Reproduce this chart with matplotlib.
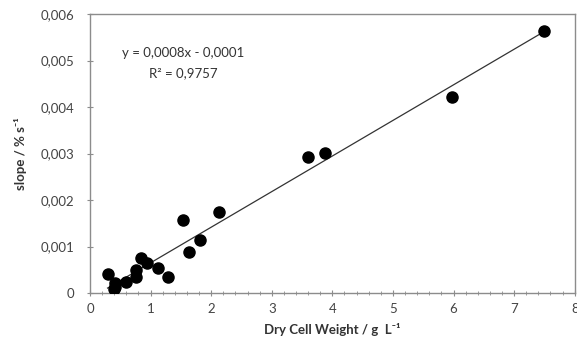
import numpy as np
import matplotlib.pyplot as plt
from matplotlib.ticker import FuncFormatter, MultipleLocator

# Dry cell weight (g/L) vs slope (% per s)
dcw = [0.29, 0.40, 0.41, 0.41, 0.59, 0.76, 0.76, 0.84, 0.94, 1.13, 1.28,
       1.53, 1.63, 1.82, 2.13, 3.60, 3.88, 5.97, 7.50]
slope = [0.00040, 0.00008, 0.00014, 0.00021, 0.00023, 0.00034, 0.00049,
         0.00075, 0.00064, 0.00054, 0.00034, 0.00158, 0.00089, 0.00114,
         0.00174, 0.00292, 0.00302, 0.00421, 0.00563]
eq_text = "y = 0,0008x - 0,0001"
r2_text = "R² = 0,9757"

x = np.array(dcw)
y = np.array(slope)
m, b = np.polyfit(x, y, 1)

plt.rcParams['font.family'] = ['Lato', 'DejaVu Sans']

fig = plt.figure(figsize=(5.77, 3.44), dpi=100)
ax = fig.add_axes([0.156, 0.148, 0.84, 0.811])

xs = np.array([x.min(), x.max()])
ax.plot(xs, m * xs + b, color="#333333", lw=0.9, zorder=2)
ax.plot(x, y, "o", color="black", ms=8, zorder=3)

ax.set_xlim(0, 8)
ax.set_ylim(0, 0.006)
ax.xaxis.set_major_locator(MultipleLocator(1))
ax.xaxis.set_minor_locator(MultipleLocator(0.2))
ax.yaxis.set_major_locator(MultipleLocator(0.001))


def comma(v, pos):
    if abs(v) < 1e-12:
        return "0"
    return f"{v:.3f}".replace(".", ",")


ax.yaxis.set_major_formatter(FuncFormatter(comma))
ax.xaxis.set_major_formatter(FuncFormatter(lambda v, p: f"{v:.0f}"))

for s in ax.spines.values():
    s.set_color("#8c8c8c")
    s.set_linewidth(1.0)
ax.tick_params(axis="both", which="major", colors="#8c8c8c", labelcolor="#444444",
               labelsize=9.5, length=4, direction="inout")
ax.tick_params(axis="x", which="minor", colors="#8c8c8c", length=2.5, direction="inout")
ax.tick_params(axis="x", pad=5)
ax.tick_params(axis="y", pad=9)

ax.set_xlabel("Dry Cell Weight / g  L⁻¹", fontsize=9.5, fontweight="bold",
              color="#333333", labelpad=6)
ax.set_ylabel("slope / % s⁻¹", fontsize=9.5, fontweight="bold",
              color="#333333", labelpad=10)

ax.text(0.192, 0.86, eq_text, transform=ax.transAxes, ha="center", va="center",
        fontsize=9.5, color="#333333")
ax.text(0.192, 0.79, r2_text, transform=ax.transAxes,
        ha="center", va="center", fontsize=9.5, color="#333333")

fig.savefig("out.png", dpi=100)
